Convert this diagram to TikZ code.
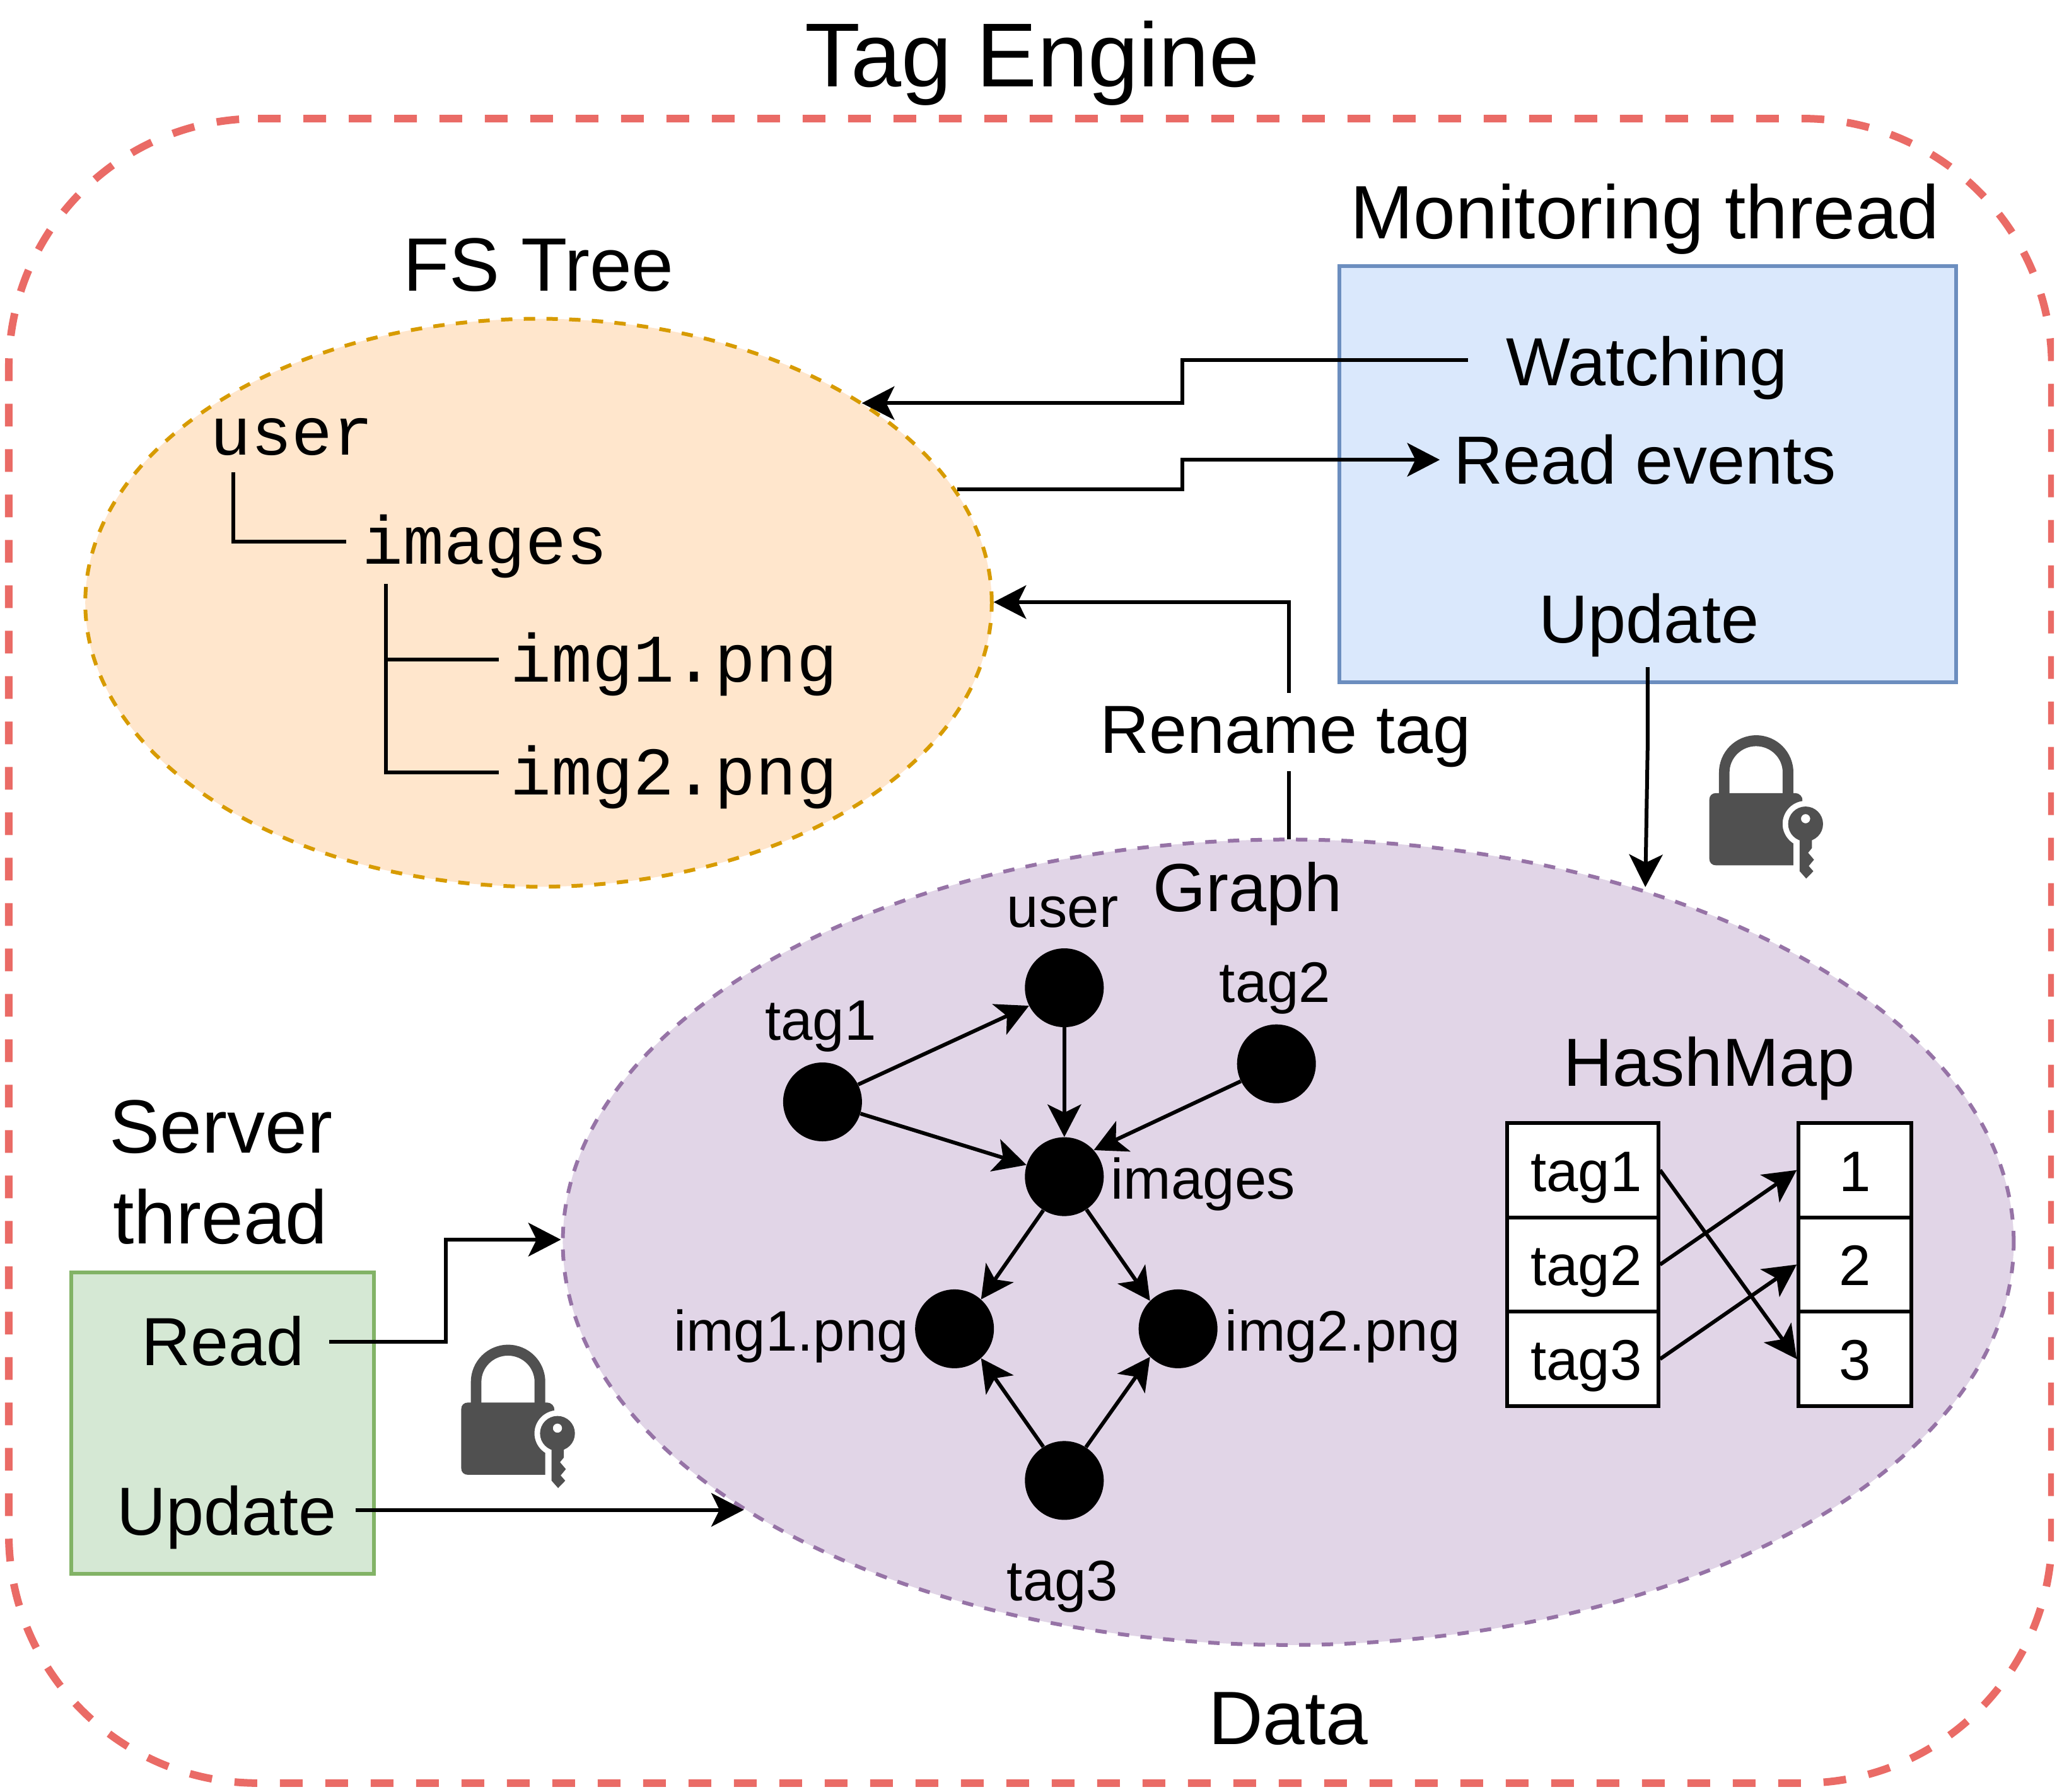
\documentclass[tikz,border=0pt]{standalone}
\usepackage{fontspec}
\setmainfont{Liberation Sans}
\setmonofont{Liberation Mono}
\usetikzlibrary{arrows.meta,shapes.geometric}
\definecolor{redline}{HTML}{EA6B66}
\definecolor{orfill}{HTML}{FFE6CC}
\definecolor{orline}{HTML}{D79B00}
\definecolor{pufill}{HTML}{E1D5E7}
\definecolor{puline}{HTML}{9673A6}
\definecolor{blfill}{HTML}{DAE8FC}
\definecolor{blline}{HTML}{6C8EBF}
\definecolor{grfill}{HTML}{D5E8D4}
\definecolor{grline}{HTML}{82B366}
\definecolor{lockgrey}{HTML}{505050}
\tikzset{
  lbl/.style={anchor=base,inner sep=0pt,text=black},
  hugetxt/.style={lbl,font=\fontsize{72}{72}\selectfont},
  bigtxt/.style={lbl,font=\fontsize{60}{60}\selectfont},
  midtxt/.style={lbl,font=\fontsize{54}{54}\selectfont},
  smalltxt/.style={lbl,font=\fontsize{45.3}{45.3}\selectfont},
  monotxt/.style={anchor=base west,inner sep=0pt,font=\ttfamily\fontsize{54}{54}\selectfont},
  framestyle/.style={draw=redline,line width=6pt,dash pattern=on 18pt off 18pt},
  regionoval/.style={ellipse,inner sep=0pt,line width=3pt,dash pattern=on 9pt off 9pt},
  panel/.style={rectangle,inner sep=0pt,line width=3pt},
  gnode/.style={circle,fill=black,inner sep=0pt,minimum size=62.5pt},
  cell/.style={rectangle,draw=black,fill=white,line width=3pt,inner sep=0pt,text height=33.3pt,text depth=0pt,font=\fontsize{45.3}{45.3}\selectfont},
  conn/.style={draw=black,line width=3pt},
  arr/.style={conn,-{Stealth[length=26pt,width=27pt,inset=6.7pt,line width=0pt]}},
}
\newcommand{\lockicon}[2]{%
  \begin{scope}[shift={(#1,#2)},x=0.16667pt,y=-0.16667pt]
    \fill[lockgrey]
      (228,420) -- (228,315) arc[start angle=180,end angle=360,x radius=177,y radius=177] -- (582,420) --
      (531,420) -- (531,315) arc[start angle=360,end angle=180,x radius=126.5,y radius=125] -- (278,420) -- cycle;
    \fill[lockgrey]
      (215,413) .. controls (195,413) and (182,425) .. (182,445) -- (182,725)
      .. controls (182,745) and (195,757) .. (215,757) -- (582,757) -- (582,653)
      arc[start angle=122,end angle=262,radius=110]
      .. controls (628,430) and (610,413) .. (590,413) -- cycle;
    \fill[lockgrey,even odd rule] (640,560) circle[radius=83] (640,535) circle[radius=22];
    \fill[lockgrey] (612,630) -- (612,785) -- (643,820) -- (677,785) -- (655,760) -- (680,730) -- (652,697) -- (670,675) -- (670,630) -- cycle;
  \end{scope}}
\begin{document}
\begin{tikzpicture}[x=1.0402pt,y=-1.0402pt]
\useasboundingbox (0,0) rectangle (1568,1366.1);
% outer frame
\begin{scope}
  \clip (0,0) rectangle (1565.6,1366.1);
  \draw[framestyle] (196.6,90.4) -- (1374.2,90.4)
    arc[start angle=-90,end angle=0,radius=189.9] -- (1564.1,1169.4)
    arc[start angle=0,end angle=90,radius=189.9] -- (196.6,1359.3)
    arc[start angle=90,end angle=180,radius=189.9] -- (6.7,280.3)
    arc[start angle=180,end angle=270,radius=189.9] -- cycle;
\end{scope}
\node[hugetxt] (title) at (787,66) {Tag Engine};
\node[bigtxt] (data) at (982,1330) {Data};
% regions
\node[regionoval,draw=orline,fill=orfill,minimum width=691*1.0402pt,minimum height=433*1.0402pt] (fsoval) at (410.5,459.5) {};
\node[regionoval,draw=puline,fill=pufill,minimum width=1106*1.0402pt,minimum height=614*1.0402pt] (graphoval) at (982,947) {};
\node[panel,draw=blline,fill=blfill,minimum width=470*1.0402pt,minimum height=317*1.0402pt] (monitor) at (1256,361.5) {};
\node[panel,draw=grline,fill=grfill,minimum width=230.5*1.0402pt,minimum height=230*1.0402pt] (server) at (169.6,1085) {};
% titles
\node[bigtxt] (monitortitle) at (1254,182) {Monitoring thread};
\node[bigtxt] (fstitle) at (410.5,222) {FS Tree};
\node[bigtxt] (servertitle1) at (168.5,879) {Server};
\node[bigtxt] (servertitle2) at (168,948) {thread};
% monitoring
\node[midtxt] (watching) at (1255.5,294) {Watching};
\node[midtxt] (readevents) at (1254,369) {Read events};
\node[midtxt] (updatem) at (1257,490) {Update};
% server
\node[midtxt] (reads) at (170,1041) {Read};
\node[midtxt] (updates) at (173,1170) {Update};
% FS tree
\node[monotxt] (fsuser) at (160,347) {user};
\node[monotxt] (fsimages) at (276,430) {images};
\node[monotxt] (fsimg1) at (389,520) {img1.png};
\node[monotxt] (fsimg2) at (389,606) {img2.png};
\coordinate (ua) at (178,360); \coordinate (ub) at (178,413); \coordinate (uc) at (264,413);
\coordinate (ia) at (294,445); \coordinate (ib) at (294,503); \coordinate (ic) at (380,503);
\coordinate (id) at (294,589); \coordinate (ie) at (380,589);
\draw[conn] (ua) -- (ub) -- (uc);
\draw[conn] (ia) -- (id) -- (ie);
\draw[conn] (ib) -- (ic);
% graph
\node[midtxt] (graphtitle) at (951,695) {Graph};
\node[gnode] (gtag1) at (627,840) {};
\node[gnode] (guser) at (811.3,753) {};
\node[gnode] (gtag2) at (973,811) {};
\node[gnode] (gimages) at (811.3,897) {};
\node[gnode] (gimg1) at (727.6,1013) {};
\node[gnode] (gimg2) at (898,1013) {};
\node[gnode] (gtag3) at (811.3,1128.6) {};
\node[smalltxt] (ltag1) at (625.5,793) {tag1};
\node[smalltxt] (luser) at (810,707) {user};
\node[smalltxt] (ltag2) at (972,764) {tag2};
\node[smalltxt] (limages) at (917,914) {images};
\node[smalltxt] (limg1) at (603,1030) {img1.png};
\node[smalltxt] (limg2) at (1023.5,1030) {img2.png};
\node[smalltxt] (ltag3) at (810,1220) {tag3};
\draw[arr] (gtag1.26) -- (guser.207);
\draw[arr] (gtag1) -- (gimages);
\draw[arr] (guser) -- (gimages);
\draw[arr] (gtag2.206) -- (gimages.42);
\draw[arr] (gimages.238) -- (gimg1.48);
\draw[arr] (gimages.-56) -- (gimg2.135);
\draw[arr] (gtag3.122.8) -- (gimg1.-48.3);
\draw[arr] (gtag3.57.2) -- (gimg2.-135);
% hashmap
\node[midtxt] (hashtitle) at (1303,828) {HashMap};
\node[cell,minimum width=115*1.0402pt,minimum height=72*1.0402pt] (k1) at (1206.5,892) {\hspace{5.5pt}tag1};
\node[cell,minimum width=115*1.0402pt,minimum height=72*1.0402pt] (k2) at (1206.5,964) {\hspace{5.5pt}tag2};
\node[cell,minimum width=115*1.0402pt,minimum height=72*1.0402pt] (k3) at (1206.5,1036) {\hspace{5.5pt}tag3};
\node[cell,minimum width=86*1.0402pt,minimum height=72*1.0402pt] (v1) at (1414,892) {1};
\node[cell,minimum width=86*1.0402pt,minimum height=72*1.0402pt] (v2) at (1414,964) {2};
\node[cell,minimum width=86*1.0402pt,minimum height=72*1.0402pt] (v3) at (1414,1036) {3};
\draw[arr] (k1.east) -- (v3.west);
\draw[arr] (k2.east) -- (v1.west);
\draw[arr] (k3.east) -- (v2.west);
% connectors
\coordinate (wstart) at (1119,274.5); \coordinate (w1) at (901.5,274.5); \coordinate (w2) at (901.5,307.3); \coordinate (wend) at (657,307.3);
\draw[arr] (wstart) -- (w1) -- (w2) -- (wend);
\coordinate (rstart) at (729.5,373); \coordinate (r1) at (901.5,373); \coordinate (r2) at (901.5,350.5); \coordinate (rend) at (1097.5,350.5);
\draw[arr] (rstart) -- (r1) -- (r2) -- (rend);
\coordinate (ngtop) at (982.3,640); \coordinate (ncorner) at (982.3,459);
\draw[arr] (ngtop) -- (ncorner) -- (ncorner -| fsoval.east);
\node[midtxt,fill=white,inner xsep=3pt,inner ysep=8.5pt,text height=39.3pt,text depth=6pt] (renametag) at (980,574) {Rename tag};
\coordinate (ustart) at (1255.9,508.6); \coordinate (ubend) at (1255.9,572); \coordinate (uend) at (1254.2,676.2);
\draw[arr] (ustart) -- (ubend) -- (uend);
\coordinate (sstart) at (251,1022.7); \coordinate (s1) at (339.7,1022.7); \coordinate (s2) at (339.7,945);
\draw[arr] (sstart) -- (s1) -- (s2) -- (s2 -| graphoval.west);
\coordinate (tstart) at (271,1151); \coordinate (tend) at (567,1151);
\draw[arr] (tstart) -- (tend);
% locks
\lockicon{1273.8}{538.4}
\lockicon{322.4}{1003}
\end{tikzpicture}
\end{document}
